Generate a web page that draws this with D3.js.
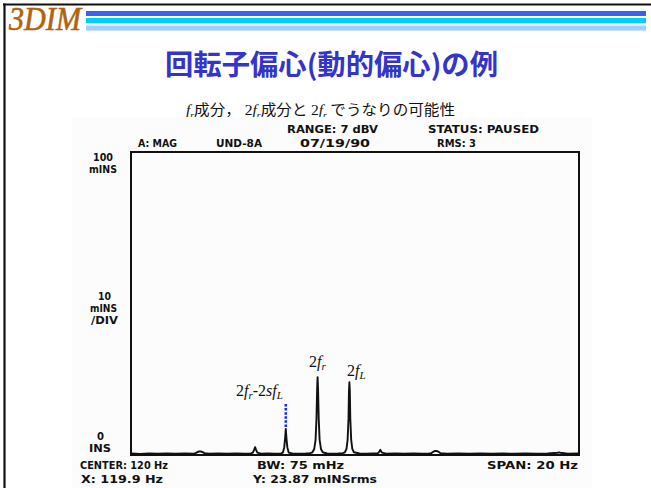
<!DOCTYPE html>
<html><head><meta charset="utf-8">
<script src="https://cdn.jsdelivr.net/npm/d3@7"></script>
<style>html,body{margin:0;padding:0;background:#fff;}svg{display:block;}</style>
</head><body>
<script>
// ---- data ----
const freqDomain = [110, 130];          // Hz (CENTER 120 Hz, SPAN 20 Hz)
const ampDomain = [0, 100];             // mINS
// spectrum trace: [frequency Hz, amplitude mINS]
const traceFreq = [110.0,110.4,110.8,111.2,111.6,112.0,112.4,112.8,
  112.88,112.96,113.04,113.12,113.2,113.28,
  113.5,113.9,114.3,114.7,115.1,115.35,
  115.44,115.5,115.54,115.58,115.64,
  115.8,116.1,116.4,116.7,
  116.78,116.84,116.88,116.91,116.94,116.98,117.04,
  117.2,117.5,117.8,118.0,
  118.1,118.18,118.24,118.28,118.31,118.33,118.35,118.38,118.42,118.48,118.56,
  118.75,119.0,119.25,119.45,
  119.55,119.62,119.67,119.71,119.73,119.75,119.77,119.79,119.83,119.88,119.95,
  120.2,120.5,120.8,121.0,
  121.06,121.13,121.2,
  121.4,121.8,122.2,122.6,123.0,123.3,
  123.4,123.48,123.56,123.66,123.74,123.82,
  124.1,124.6,125.1,125.6,126.1,126.6,127.1,127.6,128.1,128.6,
  129.05,129.11,129.17,
  129.5,130.0];
const traceAmp = [0.5,0.35,0.5,0.4,0.55,0.4,0.5,0.45,
  0.6,0.95,1.15,1.15,0.95,0.6,
  0.4,0.5,0.4,0.5,0.45,0.5,
  0.8,1.8,2.6,1.8,0.8,
  0.45,0.5,0.4,0.55,
  0.8,2.5,5.5,8.6,5.5,2.5,0.8,
  0.5,0.45,0.5,0.6,
  0.9,2.0,5,12,22,25.7,22,12,5,2.0,0.9,
  0.5,0.45,0.5,0.6,
  0.9,2.0,5,12,21,24.0,21,12,5,2.0,0.9,
  0.5,0.45,0.5,0.5,
  0.8,1.7,0.8,
  0.45,0.5,0.4,0.5,0.45,0.5,
  0.6,1.0,1.3,1.3,1.0,0.6,
  0.45,0.5,0.4,0.5,0.45,0.5,0.4,0.5,0.45,0.5,
  0.75,0.85,0.75,
  0.45,0.5];
// annotated peaks
const peakNames = ["2fr-2sfL", "2fr", "2fL"];
const peakFreq = [116.91, 118.33, 119.75];
const peakAmp = [8.6, 25.7, 24.0];
// marker (blue dotted) on the 2fr-2sfL peak: up to this amplitude
const markerTop = 17.2;
// header / footer texts of the analyzer
const headerTexts = ["RANGE: 7 dBV", "STATUS: PAUSED", "A: MAG", "UND-8A", "07/19/90", "RMS: 3"];
const footerTexts = ["CENTER: 120 Hz", "BW: 75 mHz", "SPAN: 20 Hz", "X: 119.9 Hz", "Y: 23.87 mINSrms"];
const yLabelTop = ["100", "mINS"];
const yLabelMid = ["10", "mINS", "/DIV"];
const yLabelBot = ["0", "INS"];
const titleText = "回転子偏心(動的偏心)の例";
const logoText = "3DIM";

// ---- drawing ----
const W = 651, H = 488;
const svg = d3.select("body").append("svg").attr("width", W).attr("height", H);

// slide frame
svg.append("rect").attr("x", 0).attr("y", 0).attr("width", W).attr("height", H).attr("fill", "#fff");
svg.append("line").attr("x1", 3).attr("x2", W).attr("y1", 4.5).attr("y2", 4.5).attr("stroke", "#111").attr("stroke-width", 2.2);
svg.append("line").attr("x1", 4.5).attr("x2", 4.5).attr("y1", 3.5).attr("y2", H).attr("stroke", "#111").attr("stroke-width", 2.2);

// logo + stripes
svg.append("text").attr("x", 9).attr("y", 30).text(logoText)
  .attr("font-family", "'Liberation Serif', serif").attr("font-style", "italic")
  .attr("font-size", 33).attr("fill", "#b0620e").attr("stroke", "#b0620e").attr("stroke-width", 0.6)
  .attr("textLength", 72).attr("lengthAdjust", "spacingAndGlyphs");
const stripes = [["#3a62ef", 11, 5], ["#00ccff", 18, 5.3], ["#9dd0ff", 25.6, 5]];
stripes.forEach(s => svg.append("rect").attr("x", 86).attr("y", s[1]).attr("width", 560).attr("height", s[2]).attr("fill", s[0]));

// title
svg.append("text").attr("x", 331.5).attr("y", 75).attr("text-anchor", "middle").text(titleText)
  .attr("font-family", "'Noto Sans CJK JP', sans-serif").attr("font-weight", "bold")
  .attr("font-size", 28).attr("fill", "#3434cc").attr("textLength", 333).attr("lengthAdjust", "spacingAndGlyphs");

// subtitle with italic f and subscripts
const sub = svg.append("text").attr("x", 186).attr("y", 115).attr("font-size", 14.5)
  .attr("font-family", "'Noto Sans CJK JP', sans-serif").attr("fill", "#111")
  .attr("textLength", 269).attr("lengthAdjust", "spacingAndGlyphs");
const subParts = [["", "f", "r", "成分，"], [" 2", "f", "r", "成分と "], ["2", "f", "r", " でうなりの可能性"]];
subParts.forEach(p => {
  if (p[0]) sub.append("tspan").attr("font-family", "'Liberation Serif', serif").text(p[0]);
  sub.append("tspan").attr("font-family", "'Liberation Serif', serif").attr("font-style", "italic").text(p[1]);
  sub.append("tspan").attr("font-family", "'Liberation Serif', serif").attr("font-style", "italic")
    .attr("font-size", 9).attr("dy", 3).text(p[2]);
  sub.append("tspan").attr("dy", -3).text(p[3]);
});

// scanned plot background
svg.append("rect").attr("x", 72).attr("y", 117).attr("width", 520).attr("height", H - 117).attr("fill", "#fcfcfc");

// plot area
const x0 = 131, x1 = 579, yTop = 152, yBot = 455;
const x = d3.scaleLinear().domain(freqDomain).range([x0, x1]);
const y = d3.scaleLinear().domain(ampDomain).range([yBot, yTop]);

svg.append("rect").attr("x", x0).attr("y", yTop).attr("width", x1 - x0).attr("height", yBot - yTop)
  .attr("fill", "none").attr("stroke", "#111").attr("stroke-width", 2);

const trace = traceFreq.map((f, i) => [f, traceAmp[i]]);
const line = d3.line().x(d => x(d[0])).y(d => y(d[1]));
svg.append("path").datum(trace).attr("d", line).attr("fill", "none")
  .attr("stroke", "#111").attr("stroke-width", 1.9).attr("stroke-linejoin", "round");

// blue dotted marker
svg.append("line").attr("x1", x(peakFreq[0])).attr("x2", x(peakFreq[0]))
  .attr("y1", y(peakAmp[0]) - 2).attr("y2", y(markerTop))
  .attr("stroke", "#1a2cf0").attr("stroke-width", 2.6).attr("stroke-dasharray", "2.5,1.6");

// analyzer texts
const mono = "'DejaVu Sans', sans-serif";
function instr(t, xs, xe, yb) {
  svg.append("text").attr("x", xs).attr("y", yb).text(t)
    .attr("font-family", mono).attr("font-weight", "bold").attr("font-size", 10.5).attr("fill", "#111")
    .attr("textLength", xe - xs).attr("lengthAdjust", "spacingAndGlyphs");
}
const headerPos = [[287, 378, 133], [428, 539, 133], [138, 177, 147], [216, 262, 147], [300, 370, 147], [437, 476, 147]];
headerTexts.forEach((t, i) => instr(t, ...headerPos[i]));
const footerPos = [[80, 168, 469], [257, 344, 469], [487, 578, 469], [81, 163, 483], [253, 377, 483]];
footerTexts.forEach((t, i) => instr(t, ...footerPos[i]));
const ylt = [[93, 113, 161], [89, 117, 173]];
yLabelTop.forEach((t, i) => instr(t, ...ylt[i]));
const ylm = [[98, 111, 300], [90, 117, 312], [91, 118, 324]];
yLabelMid.forEach((t, i) => instr(t, ...ylm[i]));
const ylb = [[97, 104, 440], [89, 111, 452]];
yLabelBot.forEach((t, i) => instr(t, ...ylb[i]));

// peak labels (serif, italic f)
function peakLabel(parts, xs, yb) {
  const t = svg.append("text").attr("x", xs).attr("y", yb).attr("font-size", 16)
    .attr("font-family", "'Liberation Serif', serif").attr("fill", "#111");
  parts.forEach(p => {
    const ts = t.append("tspan").text(p[0]);
    if (p[1] === "i") ts.attr("font-style", "italic");
    if (p[1] === "s") { ts.attr("font-style", "italic").attr("font-size", 11).attr("dy", 3); }
    if (p[1] === "u") ts.attr("dy", -3);
  });
}
const labelParts = [
  [["2", ""], ["f", "i"], ["r", "s"], ["-2", "u"], ["sf", "i"], ["L", "s"]],
  [["2", ""], ["f", "i"], ["r", "s"]],
  [["2", ""], ["f", "i"], ["L", "s"]]
];
const labelPos = [[236, 396], [309, 367], [347, 376]];
labelParts.forEach((p, i) => peakLabel(p, labelPos[i][0], labelPos[i][1]));
</script>
</body></html>
